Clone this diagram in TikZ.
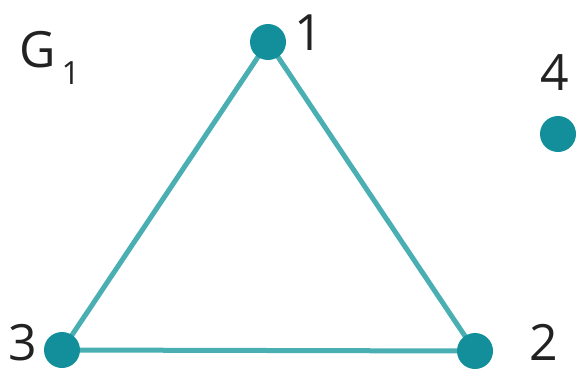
\documentclass[tikz,border=0pt]{standalone}
\usepackage{fontspec}
\setmainfont{Open Sans}
\definecolor{dotc}{HTML}{128F9A}
\definecolor{edgec}{HTML}{4AAFB3}
\definecolor{txt}{HTML}{222222}
\begin{document}
\begin{tikzpicture}[x=1pt,y=-1pt,
  vert/.style={circle,fill=dotc,minimum size=36pt,inner sep=0pt},
  lbl/.style={text=txt,font=\fontsize{50}{50}\selectfont,inner sep=0pt},
  edge/.style={draw=edgec,line width=5pt}]
\useasboundingbox (0,0) rectangle (578,372);
\coordinate (p1) at (268,42);
\coordinate (p2) at (475,351);
\coordinate (p3) at (62,350);
\draw[edge] (p1) -- (p2) -- (p3) -- cycle;
\node[vert] (v1) at (p1) {};
\node[vert] (v2) at (p2) {};
\node[vert] (v3) at (p3) {};
\node[vert] (v4) at (558,134) {};
\node[lbl] (l1) at (309,33) {1};
\node[lbl] (l2) at (544,342) {2};
\node[lbl] (l3) at (23,343) {3};
\node[lbl] (l4) at (555,73) {4};
\node[lbl,anchor=base west] (g) at (19,67) {G\hspace{6pt}\raisebox{-0.34em}{\fontsize{32}{32}\selectfont 1}};
\end{tikzpicture}
\end{document}
